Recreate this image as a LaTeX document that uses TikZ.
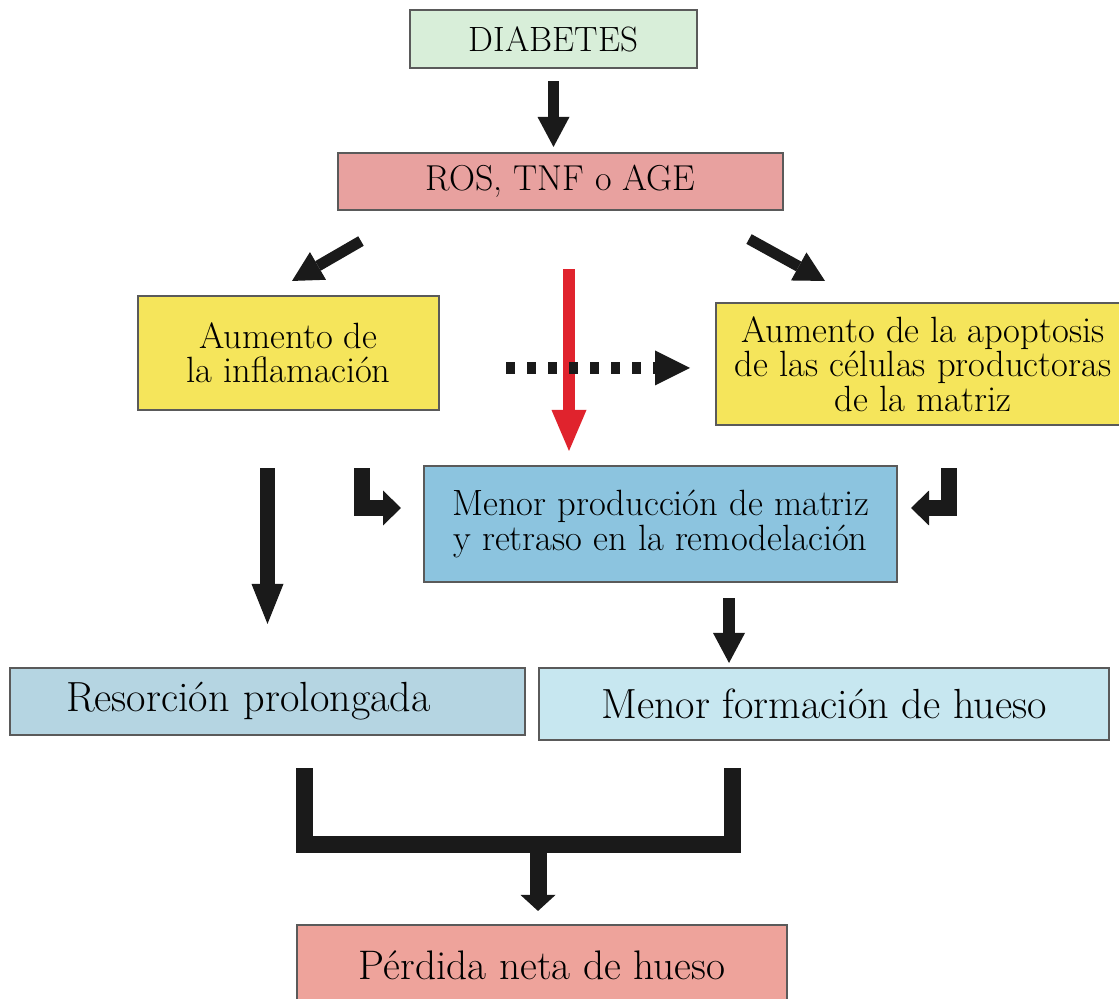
\documentclass[tikz,border=0pt]{standalone}
\usepackage{fontspec}
\usetikzlibrary{arrows.meta,positioning}

\definecolor{diabgreen}{HTML}{D8EED9}
\definecolor{rospink}{HTML}{E8A19F}
\definecolor{infyellow}{HTML}{F5E55B}
\definecolor{matblue}{HTML}{8CC4DF}
\definecolor{resblue}{HTML}{B5D5E2}
\definecolor{forblue}{HTML}{C7E7F0}
\definecolor{perdpink}{HTML}{EEA39B}
\definecolor{boxgray}{HTML}{5A5A5A}
\definecolor{arrblack}{HTML}{1A1A1A}
\definecolor{arrred}{HTML}{E0232D}

\begin{document}
\begin{tikzpicture}[x=0.02cm, y=-0.02cm,
        box/.style={draw=boxgray, line width=1.2pt, align=center, inner sep=0pt},
        midtext/.style={font=\fontsize{20.8}{19.6}\selectfont},
        lowtext/.style={font=\fontsize{24}{26}\selectfont},
        fat/.style={draw=arrblack, line width=0.22cm,
            -{Triangle[width=0.64cm, length=0.6cm, line width=0pt]}},
        bigdown/.style={draw=arrblack, line width=0.3cm,
            -{Triangle[width=0.64cm, length=0.8cm, line width=0pt]}},
        elbow/.style={draw=arrblack, line width=0.32cm,
            -{Triangle[width=0.7cm, length=0.36cm, line width=0pt]}},
        redarrow/.style={draw=arrred, line width=0.25cm,
            -{Triangle[width=0.7cm, length=0.82cm, line width=0pt]}},
        dotarrow/.style={draw=arrblack, line width=0.24cm, dash pattern=on 0.18cm off 0.24cm,
            -{Triangle[width=0.7cm, length=0.7cm, line width=0pt]}},
        bar/.style={draw=arrblack, line width=0.34cm}]
    \fill[white] (0,0) rectangle (1119,999);
    \useasboundingbox (0,0) rectangle (1119,999);

    \node[box, fill=diabgreen, minimum width=5.74cm, minimum height=1.16cm,
        font=\fontsize{20}{22}\selectfont] (diab) at (553.5,39) {DIABETES};
    \node[box, fill=rospink, minimum width=8.9cm, minimum height=1.14cm,
        font=\fontsize{20.5}{22}\selectfont] (ros) at (560.5,181.5) {ROS, TNF o AGE};
    \node[box, midtext, fill=infyellow, minimum width=6.02cm, minimum height=2.28cm]
        (infl) at (288.5,353) {Aumento de\\la inflamación};
    \node[box, midtext, fill=infyellow, minimum width=8.28cm, minimum height=2.44cm]
        (apop) at (923,364) {Aumento de la apoptosis\\de las células productoras\\de la matriz};
    \node[box, midtext, fill=matblue, minimum width=9.46cm, minimum height=2.32cm]
        (menor) at (660.5,524) {Menor producción de matriz\\y retraso en la remodelación};
    \node[box, lowtext, fill=resblue, align=left, text width=8.06cm, inner xsep=1.12cm,
        minimum height=1.34cm] (resor) at (267.5,701.5) {Resorción prolongada};
    \node[box, lowtext, fill=forblue, minimum width=11.4cm, minimum height=1.44cm]
        (form) at (824,704) {Menor formación de hueso};
    \node[box, lowtext, fill=perdpink, minimum width=9.8cm, minimum height=1.6cm,
        font=\fontsize{23.5}{26}\selectfont] (perd) at (542,965) {Pérdida neta de hueso};

    % top arrows
    \draw[fat, shorten <=0.24cm, shorten >=0.1cm] (diab.south) -- (diab.south |- ros.north);
    \draw[fat] ([shift={(24,30)}]ros.south west) -- ([shift={(3.5,-14)}]infl.north);
    \draw[fat] ([shift={(-35,28)}]ros.south east) -- ([shift={(-98,-21)}]apop.north);

    \coordinate (rtop) at ([shift={(8.5,58)}]ros.south);
    \draw[redarrow, shorten >=0.28cm] (rtop) -- (rtop |- menor.north);

    \coordinate (dstart) at ([shift={(66,15)}]infl.east);
    \draw[dotarrow, shorten >=0.5cm] (dstart) -- (dstart -| apop.west);

    % into the blue box
    \draw[bigdown] ([shift={(-21,57)}]infl.south) -- ([shift={(0,-43)}]resor.north);
    \draw[elbow] ([shift={(73,57)}]infl.south) |- ([shift={(-22,-16)}]menor.west);
    \draw[elbow] ([shift={(26,42)}]apop.south) |- ([shift={(13,-16)}]menor.east);

    \coordinate (mout) at ([shift={(68.5,15)}]menor.south);
    \draw[fat, line width=0.24cm, shorten >=0.08cm] (mout) -- (mout |- form.north);

    % bracket to the net loss
    \coordinate (join) at ([shift={(-4,-79)}]perd.north);
    \draw[bar] ([shift={(36.5,32)}]resor.south) |- (join) -| ([shift={(-92,27)}]form.south);
    \draw[fat, line width=0.34cm, -{Triangle[width=0.7cm, length=0.32cm, line width=0pt]},
        shorten >=0.26cm] (join) -- (join |- perd.north);
\end{tikzpicture}
\end{document}
